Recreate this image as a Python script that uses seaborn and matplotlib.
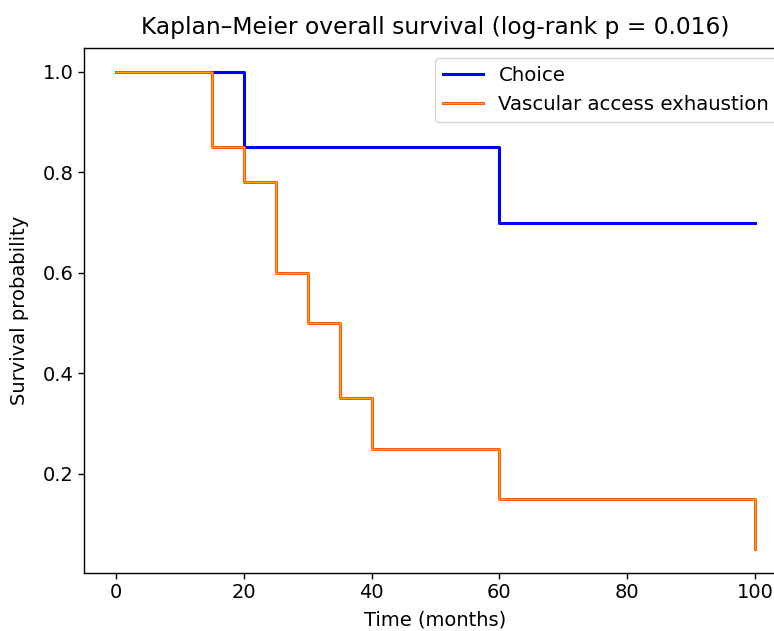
import matplotlib
matplotlib.use("Agg")
import matplotlib.pyplot as plt
import matplotlib.patheffects as pe
import seaborn as sns
import pandas as pd

# Kaplan-Meier step data (time in months, survival probability)
choice_time = [0, 20, 20, 60, 60, 100]
choice_surv = [1.0, 1.0, 0.85, 0.85, 0.70, 0.70]

vae_time = [0, 15, 15, 20, 20, 25, 25, 30, 30, 35, 35, 40, 40, 60, 60, 100, 100]
vae_surv = [1.0, 1.0, 0.85, 0.85, 0.78, 0.78, 0.60, 0.60, 0.50, 0.50, 0.35, 0.35, 0.25, 0.25, 0.15, 0.15, 0.05]

labels = ["Choice", "Vascular access exhaustion"]
xticks = [0, 20, 40, 60, 80, 100]
yticks = [0.2, 0.4, 0.6, 0.8, 1.0]

df_c = pd.DataFrame({"t": choice_time, "s": choice_surv})
df_v = pd.DataFrame({"t": vae_time, "s": vae_surv})

fig = plt.figure(figsize=(7.74, 6.31), dpi=100)
ax = fig.add_axes([84 / 774, (631 - 573) / 631, (787 - 84) / 774, (573 - 48) / 631])

sns.lineplot(data=df_c, x="t", y="s", sort=False, estimator=None, ax=ax,
             color="blue", linewidth=2.2, label=labels[0])
sns.lineplot(data=df_v, x="t", y="s", sort=False, estimator=None, ax=ax,
             color="orange", linewidth=1.0, label=labels[1],
             path_effects=[pe.Stroke(linewidth=2.1, foreground="orangered"), pe.Normal()])

ax.set_xlim(-5, 105)
ax.set_ylim(0.0025, 1.0475)
ax.set_xticks(xticks)
ax.set_yticks(yticks)
ax.tick_params(labelsize=14, width=1.0, length=4)
for s in ax.spines.values():
    s.set_linewidth(1.0)
ax.set_xlabel("Time (months)", fontsize=14, labelpad=6)
ax.set_ylabel("Survival probability", fontsize=14, labelpad=10)
ax.set_title("Kaplan\u2013Meier overall survival (log-rank p = 0.016)", fontsize=16.8, pad=10)
leg = ax.legend(loc="upper right", fontsize=14.2, bbox_to_anchor=(1.0, 1.0))

fig.savefig("out.png", dpi=100)
